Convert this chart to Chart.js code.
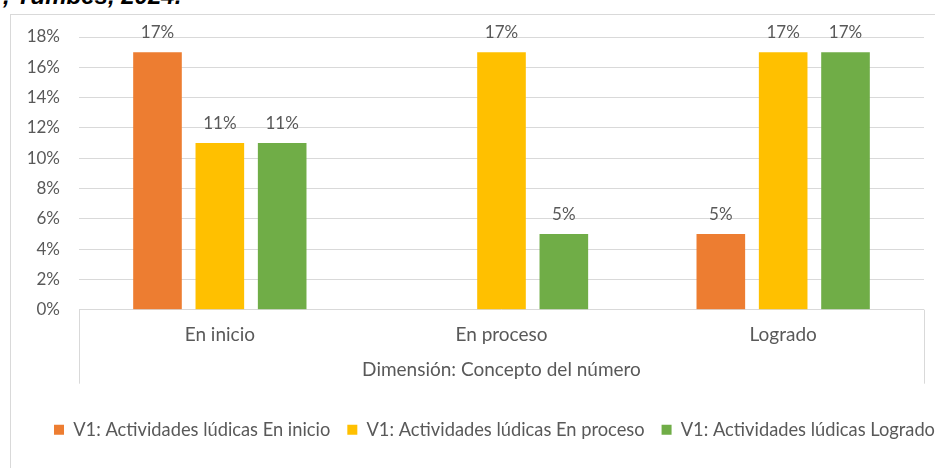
<!DOCTYPE html>
<html><head><meta charset="utf-8">
<script src="https://cdn.jsdelivr.net/npm/chart.js@4.4.1/dist/chart.umd.min.js"></script>
<style>
html,body{margin:0;padding:0;background:#fff;overflow:hidden;width:935px;height:468px;}
#frame{position:absolute;left:10px;top:14px;width:1000px;height:600px;border:1px solid #d9d9d9;box-sizing:border-box;}
#title{position:absolute;left:3px;top:-16px;font:italic bold 24px "Liberation Sans";color:#000;white-space:pre;line-height:24px;}
#wrap{position:absolute;left:0;top:0;width:989px;height:468px;}
</style></head><body>
<div id="frame"></div>
<div id="title">, Tumbes, 2024.</div>
<div id="wrap"><canvas id="c" width="989" height="468"></canvas></div>
<script>
// ---- data ----
const categories = ['En inicio', 'En proceso', 'Logrado'];
const axisTitle = 'Dimensión: Concepto del número';
const seriesNames = [
  'V1: Actividades lúdicas En inicio',
  'V1: Actividades lúdicas En proceso',
  'V1: Actividades lúdicas Logrado'
];
const valuesEnInicio = [17, null, 5];
const valuesEnProceso = [11, 17, 17];
const valuesLogrado = [11, 5, 17];
const yMin = 0, yMax = 18, yStep = 2;

// ---- styles ----
const colors = ['#ED7D31', '#FFC000', '#70AD47'];
const textColor = '#595959';
const gridColor = '#d9d9d9';
const fontFamily = 'Lato';

const barLabels = {
  id: 'barLabels',
  afterDatasetsDraw(chart) {
    const ctx = chart.ctx;
    ctx.save();
    ctx.font = '17px ' + fontFamily;
    ctx.fillStyle = textColor;
    ctx.textAlign = 'center';
    ctx.textBaseline = 'alphabetic';
    chart.data.datasets.forEach((ds, i) => {
      const meta = chart.getDatasetMeta(i);
      meta.data.forEach((bar, j) => {
        const v = ds.data[j];
        if (v === null || v === undefined) return;
        ctx.fillText(v + '%', bar.x, bar.y - 14);
      });
    });
    ctx.restore();
  }
};

const axisFrame = {
  id: 'axisFrame',
  afterDraw(chart) {
    const x = chart.scales.x;
    const ctx = chart.ctx;
    ctx.save();
    ctx.strokeStyle = gridColor;
    ctx.lineWidth = 1;
    ctx.beginPath();
    [x.left, x.right].forEach(px => {
      const p = Math.round(px) + 0.5;
      ctx.moveTo(p, x.top);
      ctx.lineTo(p, x.top + 74);
    });
    ctx.stroke();
    ctx.restore();
  }
};

const seriesValues = [valuesEnInicio, valuesEnProceso, valuesLogrado];

new Chart(document.getElementById('c'), {
  type: 'bar',
  data: {
    labels: categories,
    datasets: seriesNames.map((name, i) => ({
      label: name,
      data: seriesValues[i],
      backgroundColor: colors[i],
      borderWidth: 0,
      categoryPercentage: 0.664,
      barPercentage: 0.78
    }))
  },
  options: {
    responsive: false,
    animation: false,
    layout: { padding: { left: 0, right: 0, top: 37, bottom: 19 } },
    plugins: {
      tooltip: { enabled: false },
      legend: {
        position: 'bottom',
        labels: {
          boxWidth: 10, boxHeight: 10,
          color: textColor,
          font: { family: fontFamily, size: 18.3 },
          padding: 17
        }
      }
    },
    scales: {
      x: {
        grid: { display: false },
        border: { display: false },
        ticks: { color: textColor, font: { family: fontFamily, size: 19 }, padding: 6 },
        title: {
          display: true, text: axisTitle, color: textColor,
          font: { family: fontFamily, size: 19 },
          padding: { top: 0, bottom: 22 }
        },
        afterFit(s) { s.height = 94; }
      },
      y: {
        min: yMin, max: yMax,
        ticks: { stepSize: yStep, callback: v => v + '%', color: textColor, font: { family: fontFamily, size: 17 }, padding: 19 },
        grid: { color: gridColor, drawTicks: false },
        border: { display: false },
        afterFit(s) { s.width = 79; }
      },
      y2: {
        type: 'linear', position: 'right', display: true,
        grid: { display: false }, ticks: { display: false }, border: { display: false },
        afterFit(s) { s.width = 65; }
      }
    }
  },
  plugins: [barLabels, axisFrame]
});
</script>
</body></html>
